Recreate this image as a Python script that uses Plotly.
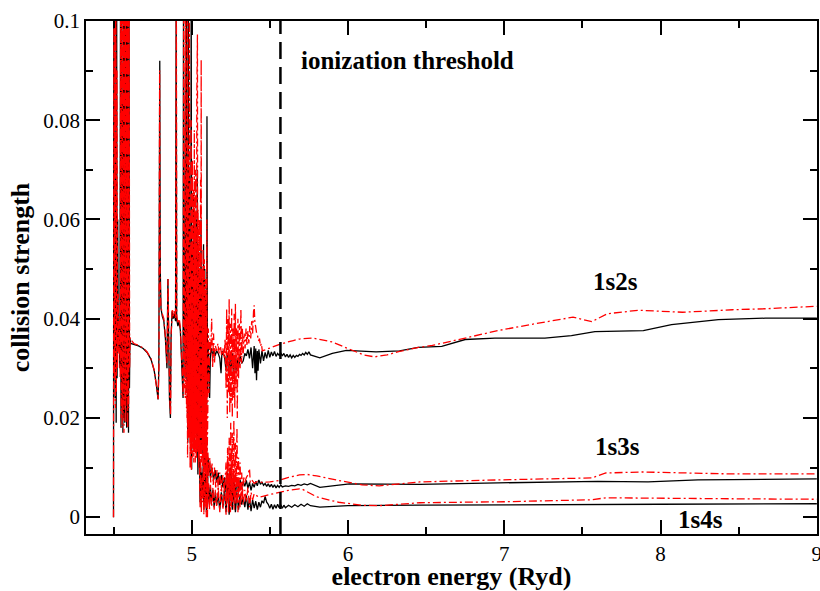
import plotly.graph_objects as go

# ---------------- data ----------------
threshold_energy = 5.568

E_1s2s_black = [4.500, 4.502, 4.505, 4.508, 4.511, 4.514, 4.517, 4.520, 4.523, 4.527, 4.531, 4.536, 4.541, 4.545,
                4.548, 4.551, 4.554, 4.557, 4.560, 4.563, 4.566, 4.569, 4.572, 4.575, 4.578, 4.581, 4.584, 4.587,
                4.590, 4.593, 4.596, 4.599, 4.602, 4.605,
                4.610, 4.630, 4.660, 4.690, 4.715, 4.740, 4.760, 4.775, 4.785, 4.790, 4.794, 4.796, 4.799, 4.804,
                4.812, 4.822, 4.832, 4.842, 4.848, 4.852, 4.858, 4.864, 4.868, 4.875, 4.882, 4.890, 4.897, 4.901,
                4.904, 4.912, 4.920, 4.928, 4.935, 4.940, 4.945, 4.948, 4.951, 4.955, 4.958, 4.961, 4.964, 4.967,
                4.970, 4.973, 4.976, 4.979, 4.982, 4.985, 4.988, 4.991, 4.994, 4.997, 5.000, 5.004, 5.008, 5.012,
                5.016, 5.020, 5.024, 5.028, 5.032, 5.036, 5.040, 5.044, 5.048, 5.052, 5.056, 5.060, 5.064, 5.068,
                5.072, 5.076, 5.080, 5.084, 5.088, 5.092, 5.096, 5.098, 5.101, 5.105, 5.110, 5.115, 5.120, 5.127,
                5.135, 5.142, 5.150, 5.160, 5.170, 5.180, 5.188, 5.194, 5.200, 5.210, 5.220, 5.228, 5.236, 5.244,
                5.252, 5.260, 5.268, 5.276, 5.284, 5.292, 5.300, 5.310, 5.320,
                5.330, 5.340, 5.350, 5.360, 5.370, 5.380, 5.390, 5.400, 5.405, 5.410, 5.415, 5.420, 5.425, 5.430,
                5.440, 5.450, 5.460, 5.470, 5.480, 5.490, 5.500, 5.510, 5.520, 5.530, 5.540, 5.550, 5.560, 5.570,
                5.580, 5.590, 5.600, 5.610, 5.620, 5.630, 5.640, 5.650, 5.660, 5.670, 5.680, 5.690, 5.700, 5.710,
                5.720, 5.730, 5.740, 5.750, 5.760,
                5.820, 5.900, 5.990, 6.180, 6.330, 6.450, 6.600, 6.750, 6.940, 7.260, 7.430, 7.580, 7.890, 8.070,
                8.370, 8.670, 9.000]
Omega_1s2s_black = [0.000, 0.110, 0.030, 0.110, 0.024, 0.075, 0.019, 0.110, 0.028, 0.060, 0.034, 0.038, 0.030, 0.110,
                    0.018, 0.110, 0.022, 0.085, 0.017, 0.110, 0.020, 0.110, 0.019, 0.110, 0.023, 0.110, 0.018, 0.110,
                    0.021, 0.110, 0.017, 0.110, 0.026, 0.036,
                    0.0350, 0.0348, 0.0345, 0.0340, 0.0332, 0.0318, 0.0296, 0.0265, 0.0237, 0.0300, 0.0600, 0.0920,
                    0.0500, 0.0420, 0.0405, 0.0395, 0.0360, 0.0300, 0.0480, 0.0300, 0.0240, 0.0200, 0.0360, 0.0415,
                    0.0400, 0.0410, 0.0395, 0.1100, 0.0400, 0.0385, 0.0395, 0.0375, 0.0330, 0.0280, 0.0240, 0.1100,
                    0.0350, 0.0400, 0.0280, 0.0900, 0.0300, 0.1100, 0.0250, 0.0600, 0.0220, 0.1100, 0.0260, 0.0700,
                    0.0200, 0.0450, 0.0250, 0.1100, 0.0240, 0.0550, 0.0200, 0.0650, 0.0230, 0.0500, 0.0180, 0.0600,
                    0.0220, 0.0700, 0.0200, 0.0550, 0.0250, 0.0500, 0.0200, 0.0600, 0.0230, 0.0480, 0.0200, 0.0550,
                    0.0150, 0.0500, 0.0200, 0.0450, 0.0220, 0.0808, 0.0250, 0.0350, 0.0300, 0.0240, 0.0330, 0.0340,
                    0.0320, 0.0340, 0.0325, 0.0335, 0.0330, 0.0320, 0.0290, 0.0335, 0.0330, 0.0325, 0.0295, 0.0330,
                    0.0290, 0.0320, 0.0300, 0.0330, 0.0285, 0.0325, 0.0295, 0.0320, 0.0300, 0.0325, 0.0310,
                    0.0315, 0.0330, 0.0325, 0.0338, 0.0320, 0.0342, 0.0300, 0.0345, 0.0290, 0.0340, 0.0276, 0.0335,
                    0.0295, 0.0338, 0.0310, 0.0335, 0.0315, 0.0332, 0.0320, 0.0336, 0.0322, 0.0333, 0.0325, 0.0334,
                    0.0324, 0.0330, 0.0326, 0.0331, 0.0325, 0.0330, 0.0323, 0.0328, 0.0322, 0.0327, 0.0321, 0.0326,
                    0.0322, 0.0326, 0.0324, 0.0328, 0.0326, 0.0330, 0.0327, 0.0332, 0.0328, 0.0333, 0.0327,
                    0.0321, 0.0330, 0.0336, 0.0333, 0.0335, 0.0342, 0.0344, 0.0358, 0.0361, 0.0361, 0.0366, 0.0374,
                    0.0376, 0.0388, 0.0398, 0.0401, 0.0401]

E_1s2s_red = [4.500, 4.503, 4.506, 4.509, 4.512, 4.515, 4.518, 4.522, 4.526, 4.530, 4.534, 4.539, 4.543, 4.546,
              4.549, 4.552, 4.555, 4.558, 4.561, 4.564, 4.567, 4.570, 4.573, 4.576, 4.579, 4.582, 4.585, 4.588,
              4.591, 4.594, 4.597, 4.600, 4.603,
              4.607, 4.615, 4.630, 4.660, 4.690, 4.715, 4.740, 4.760, 4.775, 4.786, 4.791, 4.795, 4.798, 4.803,
              4.812, 4.822, 4.832, 4.842, 4.849, 4.853, 4.859, 4.865, 4.869, 4.876, 4.883, 4.890, 4.897, 4.902,
              4.905, 4.913, 4.921, 4.928, 4.935, 4.941, 4.946,
              4.949, 4.951, 4.953, 4.955, 4.957, 4.959, 4.961, 4.963, 4.965, 4.967, 4.969,
              4.971, 4.973, 4.975, 4.977, 4.979, 4.981, 4.983, 4.985, 4.987, 4.989, 4.991,
              4.993, 4.995, 4.997, 4.999, 5.001, 5.003, 5.005, 5.007, 5.009, 5.011, 5.013,
              5.015, 5.017, 5.019, 5.021, 5.023, 5.025, 5.027, 5.029, 5.031, 5.033, 5.035,
              5.037, 5.039, 5.041, 5.043, 5.045, 5.047, 5.049, 5.051, 5.053, 5.055, 5.057,
              5.059, 5.061, 5.063, 5.065, 5.067, 5.069, 5.071, 5.073, 5.075, 5.077, 5.079,
              5.081, 5.083, 5.085, 5.087, 5.089, 5.091, 5.093, 5.095, 5.097, 5.099, 5.101,
              5.103, 5.107, 5.111, 5.116, 5.122,
              5.128, 5.134, 5.140, 5.146, 5.152, 5.160, 5.168, 5.176, 5.184, 5.192, 5.200, 5.208, 5.214, 5.220,
              5.224, 5.228, 5.232, 5.236, 5.240, 5.244, 5.248, 5.252, 5.256, 5.260, 5.264, 5.268, 5.272, 5.276,
              5.280, 5.284, 5.288, 5.292, 5.296, 5.300, 5.305, 5.310, 5.315, 5.320, 5.325, 5.330, 5.336, 5.342,
              5.348, 5.354, 5.360, 5.366, 5.372, 5.378, 5.384, 5.390, 5.396, 5.400, 5.404, 5.410, 5.416, 5.422,
              5.428, 5.434, 5.440, 5.446, 5.452, 5.460,
              5.500, 5.570, 5.650, 5.690, 5.774, 5.850, 5.900, 5.960, 6.030, 6.100, 6.170, 6.250, 6.330, 6.450,
              6.540, 6.750, 6.960, 7.200, 7.440, 7.560, 7.660, 7.860, 8.140, 8.460, 8.670, 9.000]
Omega_1s2s_red = [0.000, 0.110, 0.028, 0.110, 0.022, 0.110, 0.025, 0.090, 0.030, 0.045, 0.033, 0.040, 0.028, 0.110,
                  0.020, 0.110, 0.018, 0.110, 0.021, 0.110, 0.017, 0.110, 0.022, 0.110, 0.019, 0.110, 0.024, 0.110,
                  0.018, 0.110, 0.022, 0.110, 0.030,
                  0.0362, 0.0356, 0.0350, 0.0346, 0.0341, 0.0333, 0.0319, 0.0297, 0.0266, 0.0238, 0.0310, 0.0900,
                  0.0480, 0.0425, 0.0410, 0.0400, 0.0365, 0.0310, 0.0480, 0.0310, 0.0245, 0.0205, 0.0370, 0.0420,
                  0.0405, 0.0415, 0.0400, 0.1100, 0.0405, 0.0390, 0.0400, 0.0380, 0.0335, 0.0285, 0.0245,
                  0.110, 0.030, 0.060, 0.026, 0.042, 0.024, 0.110, 0.028, 0.085, 0.022, 0.070,
                  0.020, 0.110, 0.018, 0.090, 0.022, 0.075, 0.016, 0.110, 0.020, 0.065, 0.015,
                  0.055, 0.021, 0.080, 0.014, 0.060, 0.018, 0.072, 0.012, 0.058, 0.017, 0.066,
                  0.013, 0.078, 0.016, 0.062, 0.011, 0.070, 0.015, 0.058, 0.012, 0.085, 0.016,
                  0.0973, 0.013, 0.062, 0.017, 0.055, 0.011, 0.060, 0.014, 0.052, 0.012, 0.068,
                  0.016, 0.0922, 0.012, 0.058, 0.015, 0.050, 0.010, 0.054, 0.013, 0.046, 0.009,
                  0.052, 0.012, 0.044, 0.008, 0.048, 0.011, 0.040, 0.007, 0.060, 0.012, 0.042,
                  0.0200, 0.0380, 0.0250, 0.0360, 0.0330,
                  0.0400, 0.0300, 0.0370, 0.0310, 0.0345, 0.0335, 0.0350, 0.0330, 0.0345, 0.0325, 0.0340, 0.0320,
                  0.0360, 0.0260, 0.0420, 0.0200, 0.0400, 0.0250, 0.0440, 0.0210, 0.0390, 0.0230, 0.0420, 0.0200,
                  0.0380, 0.0240, 0.0410, 0.0220, 0.0430, 0.0260, 0.0380, 0.0200, 0.0400, 0.0280, 0.0390, 0.0300,
                  0.0420, 0.0310, 0.0380, 0.0330, 0.0370, 0.0340, 0.0380, 0.0345, 0.0375, 0.0350, 0.0385, 0.0360,
                  0.0395, 0.0370, 0.0415, 0.0427, 0.0395, 0.0380, 0.0370, 0.0365, 0.0355, 0.0360, 0.0345, 0.0350,
                  0.0335, 0.0336,
                  0.0341, 0.0349, 0.0356, 0.0359, 0.0361, 0.0357, 0.0353, 0.0345, 0.0336, 0.0327, 0.0323, 0.0327,
                  0.0334, 0.0342, 0.0346, 0.0361, 0.0376, 0.0390, 0.0403, 0.0394, 0.0410, 0.0417, 0.0413, 0.0418,
                  0.0420, 0.0425]

E_1s3s_black = [4.970, 4.975, 4.980, 4.985, 4.990, 4.995, 5.000, 5.004, 5.008, 5.012, 5.016, 5.020, 5.024, 5.028,
                5.032, 5.036, 5.040, 5.044, 5.048, 5.052, 5.056, 5.060, 5.064, 5.068, 5.072, 5.076, 5.080, 5.085,
                5.090, 5.095, 5.100, 5.105, 5.110, 5.115, 5.120, 5.130, 5.140, 5.150, 5.160, 5.170, 5.180, 5.190,
                5.200, 5.210, 5.220, 5.230, 5.240, 5.250, 5.260, 5.270, 5.280, 5.290, 5.300, 5.310, 5.320, 5.330,
                5.340, 5.350, 5.360, 5.370, 5.380, 5.390, 5.400, 5.410, 5.420, 5.430, 5.440, 5.450, 5.460, 5.470,
                5.480, 5.490, 5.500, 5.510, 5.520, 5.530, 5.540, 5.550, 5.560, 5.570, 5.580, 5.600, 5.620, 5.640,
                5.660, 5.680, 5.700, 5.720, 5.740, 5.760,
                5.820, 6.010, 6.460, 6.960, 7.600, 7.920, 8.240, 9.000]
Omega_1s3s_black = [0.0400, 0.0150, 0.0450, 0.0200, 0.0350, 0.0140, 0.0096, 0.0400, 0.0180, 0.0300, 0.0150, 0.0380,
                    0.0200, 0.0280, 0.0160, 0.0250, 0.0086, 0.0300, 0.0150, 0.0220, 0.0130, 0.0250, 0.0140, 0.0200,
                    0.0120, 0.0180, 0.0100, 0.0160, 0.0080, 0.0140, 0.0025, 0.0120, 0.0090, 0.0110, 0.0080, 0.0100,
                    0.0075, 0.0095, 0.0070, 0.0090, 0.0065, 0.0085, 0.0060, 0.0080, 0.0050, 0.0090, 0.0040, 0.0100,
                    0.0035, 0.0085, 0.0040, 0.0080, 0.0050, 0.0075, 0.0060, 0.0072,
                    0.0062, 0.0074, 0.0058, 0.0070, 0.0054, 0.0068, 0.0060, 0.0072, 0.0063, 0.0075, 0.0066, 0.0071,
                    0.0064, 0.0068, 0.0062, 0.0067, 0.0061, 0.0066, 0.0060, 0.0065, 0.0059, 0.0064, 0.0060, 0.0065,
                    0.0061, 0.0063, 0.0062, 0.0064, 0.0063, 0.0066, 0.0064, 0.0067, 0.0065, 0.0068,
                    0.0060, 0.0067, 0.0066, 0.0069, 0.0072, 0.0071, 0.0075, 0.0077]

E_1s3s_red = [4.970, 4.974, 4.978, 4.982, 4.986, 4.990, 4.994, 4.998, 5.002, 5.006, 5.010, 5.014, 5.018, 5.022,
              5.026, 5.030, 5.034, 5.038, 5.042, 5.046, 5.050, 5.054, 5.058, 5.062, 5.066, 5.070, 5.074, 5.078,
              5.082, 5.086, 5.090, 5.094, 5.098, 5.101, 5.104, 5.110, 5.116, 5.122, 5.130, 5.138, 5.146, 5.154,
              5.162, 5.170, 5.180, 5.190, 5.200, 5.210, 5.220, 5.225, 5.230, 5.235, 5.240, 5.245, 5.250, 5.255,
              5.260, 5.265, 5.270, 5.275, 5.280, 5.285, 5.290, 5.295, 5.300, 5.305, 5.310, 5.315, 5.320, 5.326,
              5.332, 5.340, 5.350, 5.360, 5.370, 5.375, 5.385, 5.400, 5.420, 5.450, 5.500, 5.560, 5.620, 5.690,
              5.740, 5.800, 5.940, 6.090, 6.200, 6.460, 6.960, 7.560, 7.650, 7.880, 8.460, 9.000]
Omega_1s3s_red = [0.0400, 0.0120, 0.0500, 0.0160, 0.0420, 0.0100, 0.0380, 0.0093, 0.0450, 0.0140, 0.0350, 0.0110,
                  0.0420, 0.0170, 0.0300, 0.0120, 0.0380, 0.0150, 0.0280, 0.0100, 0.0320, 0.0130, 0.0260, 0.0110,
                  0.0300, 0.0140, 0.0220, 0.0090, 0.0250, 0.0120, 0.0200, 0.0070, 0.0160, 0.0000, 0.0130, 0.0080,
                  0.0120, 0.0070, 0.0110, 0.0065, 0.0100, 0.0060, 0.0095, 0.0055, 0.0090, 0.0060, 0.0085, 0.0050,
                  0.0110, 0.0030, 0.0140, 0.0010, 0.0160, 0.0040, 0.0190, 0.0020, 0.0170, 0.0050, 0.0195, 0.0030,
                  0.0150, 0.0060, 0.0180, 0.0040, 0.0120, 0.0050, 0.0110, 0.0030, 0.0090, 0.0045, 0.0082, 0.0070,
                  0.0080, 0.0085, 0.0098, 0.0070, 0.0075, 0.0068, 0.0072, 0.0070, 0.0071, 0.0074, 0.0080, 0.0085,
                  0.0086, 0.0083, 0.0074, 0.0065, 0.0063, 0.0071, 0.0075, 0.0079, 0.0089, 0.0091, 0.0087, 0.0087]

E_1s4s_black = [5.050, 5.054, 5.058, 5.062, 5.066, 5.070, 5.074, 5.078, 5.082, 5.086, 5.090, 5.094, 5.098, 5.102,
                5.108, 5.114, 5.120, 5.128, 5.136, 5.144, 5.152, 5.160, 5.170, 5.180, 5.190, 5.200, 5.210, 5.220,
                5.230, 5.240, 5.250, 5.260, 5.270, 5.280, 5.290, 5.300, 5.310, 5.320, 5.330, 5.340, 5.350, 5.360,
                5.370, 5.380, 5.390, 5.400, 5.410, 5.420, 5.430, 5.440, 5.450, 5.460, 5.470, 5.480, 5.490, 5.500,
                5.510, 5.520, 5.530, 5.540, 5.550, 5.560, 5.570, 5.580, 5.590, 5.600, 5.620, 5.640, 5.660, 5.680,
                5.700, 5.720, 5.740, 5.760, 5.820, 6.000, 6.460, 7.000, 8.000, 9.000]
Omega_1s4s_black = [0.0120, 0.0030, 0.0100, 0.0020, 0.0090, 0.0040, 0.0110, 0.0015, 0.0080, 0.0030, 0.0095, 0.0010,
                    0.0070, 0.0030, 0.0065, 0.0025, 0.0060, 0.0030, 0.0055, 0.0020, 0.0050, 0.0025, 0.0045, 0.0015,
                    0.0050, 0.0020, 0.0055, 0.0010, 0.0060, 0.0005, 0.0065, 0.0015, 0.0055, 0.0010, 0.0050, 0.0015,
                    0.0045, 0.0025, 0.0040, 0.0020, 0.0044, 0.0015, 0.0038, 0.0012, 0.0035, 0.0018, 0.0032, 0.0015,
                    0.0030, 0.0020, 0.0033, 0.0028, 0.0042, 0.0030, 0.0026, 0.0018, 0.0026, 0.0016, 0.0025, 0.0018,
                    0.0026, 0.0019, 0.0025, 0.0018, 0.0024, 0.0019, 0.0024, 0.0020, 0.0025, 0.0021, 0.0026, 0.0022,
                    0.0027, 0.0023, 0.0020, 0.0023, 0.0024, 0.0025, 0.0026, 0.0027]

E_1s4s_red = [5.050, 5.054, 5.058, 5.062, 5.066, 5.070, 5.074, 5.078, 5.082, 5.086, 5.090, 5.094, 5.098, 5.102,
              5.108, 5.114, 5.120, 5.128, 5.136, 5.144, 5.152, 5.160, 5.170, 5.180, 5.190, 5.200, 5.210, 5.220,
              5.230, 5.236, 5.242, 5.248, 5.254, 5.260, 5.266, 5.272, 5.278, 5.284, 5.290, 5.296, 5.302, 5.310,
              5.320, 5.330, 5.340, 5.350, 5.360, 5.370, 5.380, 5.390, 5.400, 5.430, 5.455, 5.500, 5.560, 5.620,
              5.690, 5.710, 5.760, 5.800, 5.900, 5.940, 6.090, 6.200, 6.460, 7.000, 7.560, 7.650, 8.460, 9.000]
Omega_1s4s_red = [0.0100, 0.0020, 0.0120, 0.0010, 0.0080, 0.0030, 0.0100, 0.0005, 0.0090, 0.0020, 0.0070, 0.0000,
                  0.0080, 0.0025, 0.0070, 0.0015, 0.0065, 0.0020, 0.0060, 0.0015, 0.0055, 0.0020, 0.0060, 0.0010,
                  0.0065, 0.0015, 0.0070, 0.0005, 0.0120, 0.0020, 0.0100, 0.0010, 0.0130, 0.0030, 0.0090, 0.0015,
                  0.0110, 0.0025, 0.0085, 0.0010, 0.0070, 0.0020, 0.0060, 0.0025, 0.0055, 0.0030, 0.0060, 0.0020,
                  0.0050, 0.0035, 0.0047, 0.0040, 0.0042, 0.0046, 0.0050, 0.0054, 0.0057, 0.0056, 0.0048, 0.0041,
                  0.0033, 0.0030, 0.0024, 0.0023, 0.0029, 0.0031, 0.0035, 0.0039, 0.0037, 0.0036]

x_range = [4.324, 9.001]
y_range = [-0.0034, 0.1]

labels = [("ionization threshold", 5.689, 0.0921, "left"),
          ("1s2s", 7.712, 0.0475, "center"),
          ("1s3s", 7.725, 0.01415, "center"),
          ("1s4s", 8.253, -0.0004, "center")]

# ---------------- figure ----------------
SERIF = "Liberation Serif"
black_line = dict(color="black", width=1.3)
red_line = dict(color="red", width=1.3, dash="8px,3px,2px,3px")

fig = go.Figure()
for name, xs, ys in [("1s2s", E_1s2s_black, Omega_1s2s_black),
                     ("1s3s", E_1s3s_black, Omega_1s3s_black),
                     ("1s4s", E_1s4s_black, Omega_1s4s_black)]:
    fig.add_trace(go.Scatter(x=xs, y=ys, mode="lines", line=black_line, name=name + " (solid)",
                             showlegend=False))
for name, xs, ys in [("1s2s", E_1s2s_red, Omega_1s2s_red),
                     ("1s3s", E_1s3s_red, Omega_1s3s_red),
                     ("1s4s", E_1s4s_red, Omega_1s4s_red)]:
    fig.add_trace(go.Scatter(x=xs, y=ys, mode="lines", line=red_line, name=name + " (dash-dot)",
                             showlegend=False))

fig.add_shape(type="line", xref="x", yref="paper", x0=threshold_energy, x1=threshold_energy, y0=0, y1=1,
              line=dict(color="black", width=2.5, dash="17px,8px"))

for text, x, y, anchor in labels:
    fig.add_annotation(x=x, y=y, xref="x", yref="y", text="<b>%s</b>" % text, showarrow=False,
                       xanchor=anchor, yanchor="middle",
                       font=dict(family=SERIF, size=25, color="black"))

axis_common = dict(showline=True, linecolor="black", linewidth=1.5, mirror="ticks", ticks="inside",
                   ticklen=14, tickwidth=1.5, tickcolor="black", showgrid=False, zeroline=False,
                   automargin=False, ticklabeloverflow="allow",
                   tickfont=dict(family=SERIF, size=21, color="black"))

fig.update_layout(
    width=820, height=591,
    margin=dict(l=86, r=3, t=21, b=57),
    paper_bgcolor="white", plot_bgcolor="white",
    showlegend=False,
    font=dict(family=SERIF, color="black"),
    xaxis=dict(range=x_range, dtick=1, tick0=0,
               minor=dict(dtick=0.5, ticks="inside", ticklen=7, tickwidth=1.5, tickcolor="black"),
               title=dict(text="<b>electron energy (Ryd)</b>", font=dict(family=SERIF, size=26, color="black"),
                          standoff=5),
               **axis_common),
    yaxis=dict(range=y_range, dtick=0.02, tick0=0,
               minor=dict(dtick=0.01, ticks="inside", ticklen=7, tickwidth=1.5, tickcolor="black"),
               title=dict(text="<b>collision strength</b>", font=dict(family=SERIF, size=26, color="black"),
                          standoff=6),
               **axis_common),
)

fig.write_html("out.html", config={"displayModeBar": False},
               post_script="document.body.style.margin='0';")
